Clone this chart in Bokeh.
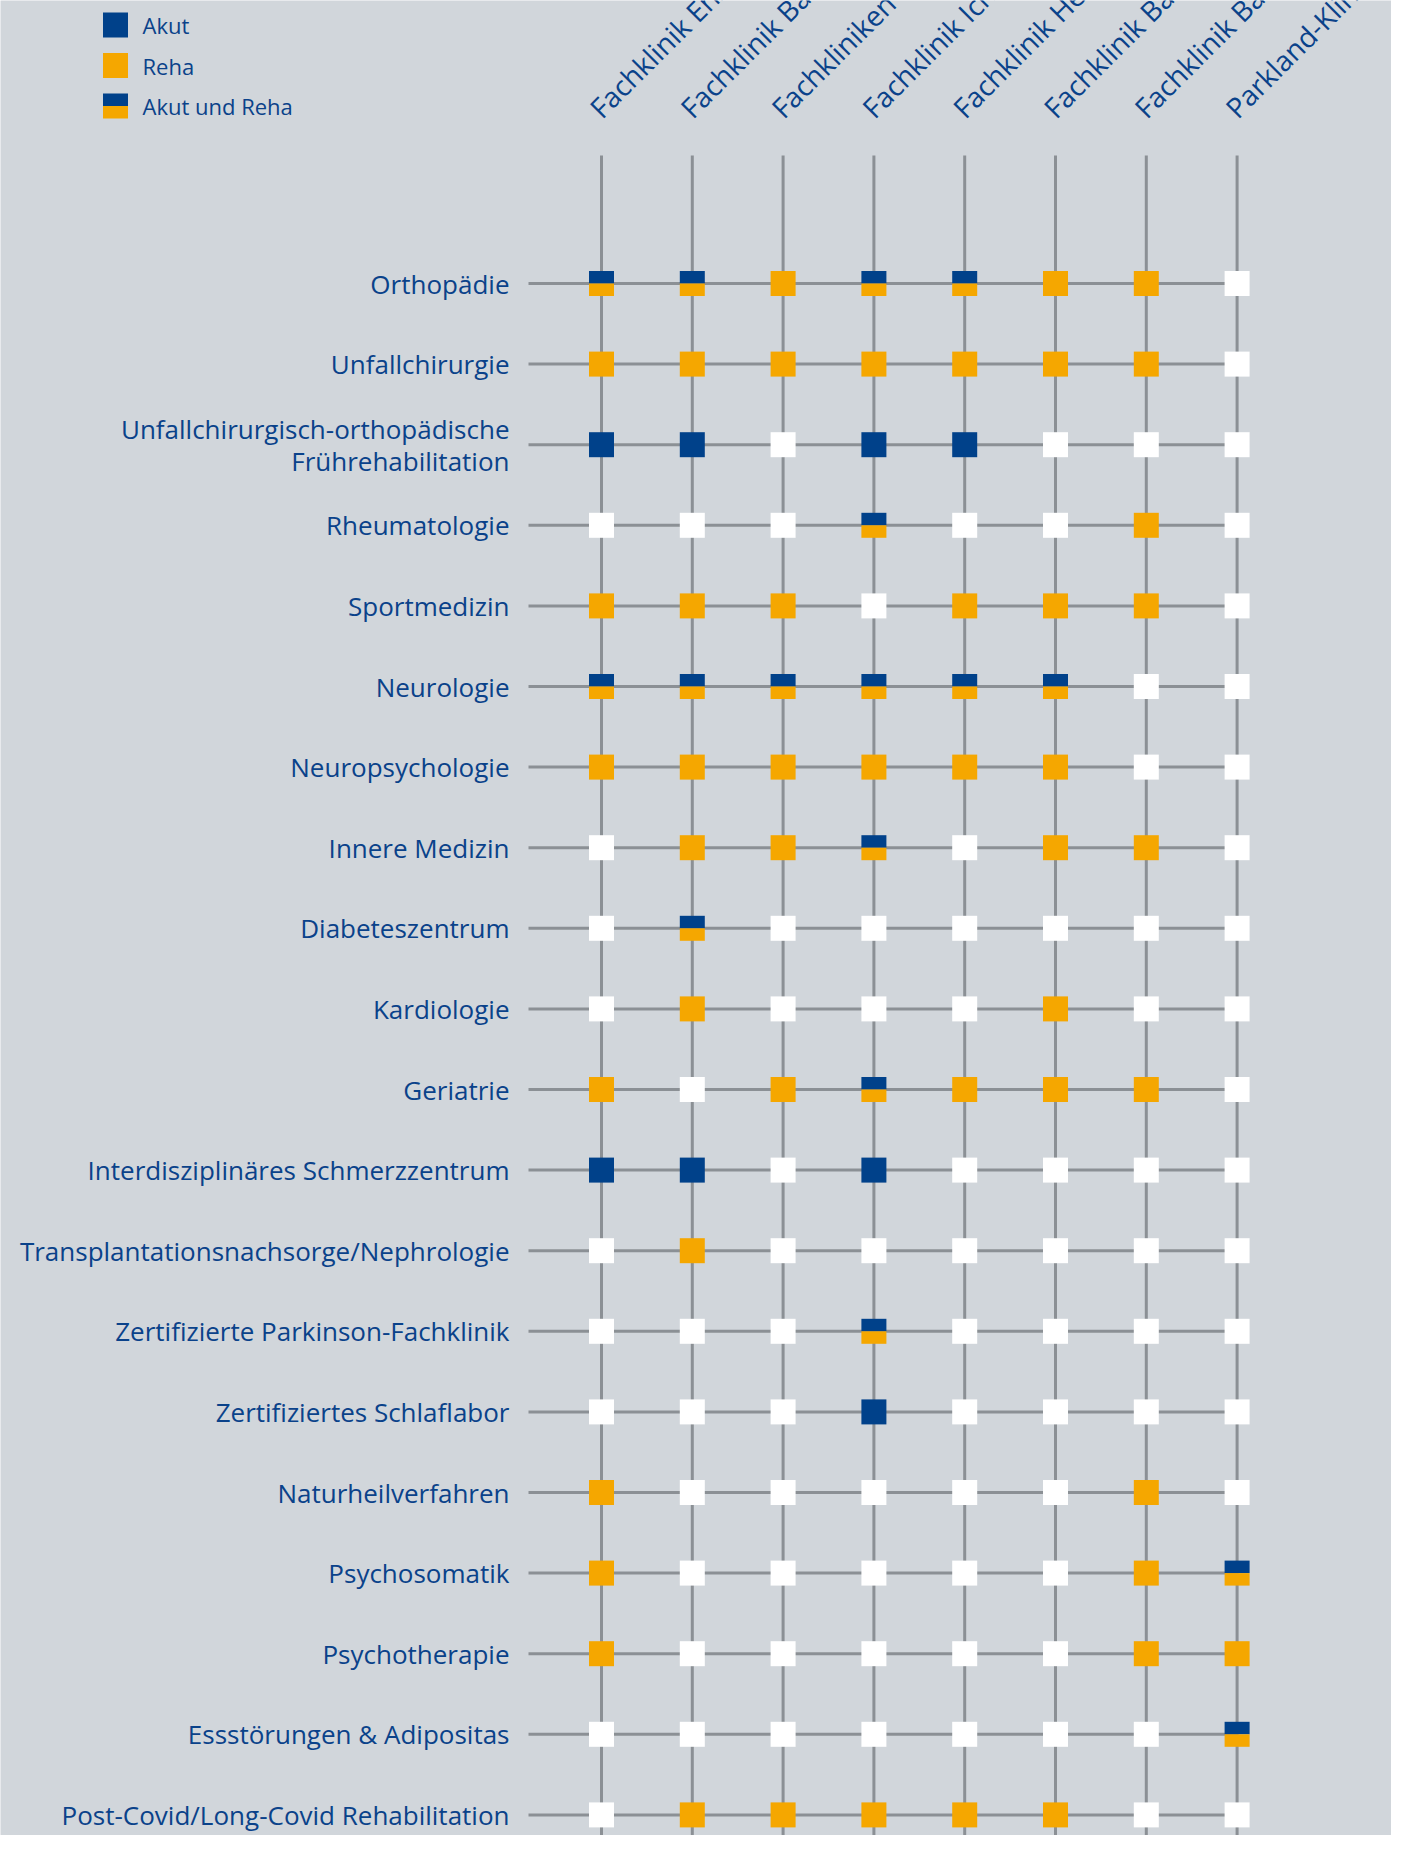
import math
from bokeh.plotting import figure
from bokeh.models import Range1d, ColumnDataSource
from bokeh.core.properties import value
from bokeh.embed import file_html
from bokeh.resources import INLINE

# ---------------- data ----------------
kliniken = [
    "Fachklinik Enzensberg",
    "Fachklinik Bad Heilbrunn",
    "Fachkliniken Hohenurach",
    "Fachklinik Ichenhausen",
    "Fachklinik Herzogenaurach",
    "Fachklinik Bad Liebenstein",
    "Fachklinik Bad Pyrmont",
    "Parkland-Klinik",
]

fachbereiche = [
    "Orthopädie",
    "Unfallchirurgie",
    "Unfallchirurgisch-orthopädische\nFrührehabilitation",
    "Rheumatologie",
    "Sportmedizin",
    "Neurologie",
    "Neuropsychologie",
    "Innere Medizin",
    "Diabeteszentrum",
    "Kardiologie",
    "Geriatrie",
    "Interdisziplinäres Schmerzzentrum",
    "Transplantationsnachsorge/Nephrologie",
    "Zertifizierte Parkinson-Fachklinik",
    "Zertifiziertes Schlaflabor",
    "Naturheilverfahren",
    "Psychosomatik",
    "Psychotherapie",
    "Essstörungen & Adipositas",
    "Post-Covid/Long-Covid Rehabilitation",
]

# "A" = Akut, "R" = Reha, "AR" = Akut und Reha, "" = kein Angebot
angebot = [
    ["AR", "AR", "R", "AR", "AR", "R", "R", ""],
    ["R", "R", "R", "R", "R", "R", "R", ""],
    ["A", "A", "", "A", "A", "", "", ""],
    ["", "", "", "AR", "", "", "R", ""],
    ["R", "R", "R", "", "R", "R", "R", ""],
    ["AR", "AR", "AR", "AR", "AR", "AR", "", ""],
    ["R", "R", "R", "R", "R", "R", "", ""],
    ["", "R", "R", "AR", "", "R", "R", ""],
    ["", "AR", "", "", "", "", "", ""],
    ["", "R", "", "", "", "R", "", ""],
    ["R", "", "R", "AR", "R", "R", "R", ""],
    ["A", "A", "", "A", "", "", "", ""],
    ["", "R", "", "", "", "", "", ""],
    ["", "", "", "AR", "", "", "", ""],
    ["", "", "", "A", "", "", "", ""],
    ["R", "", "", "", "", "", "R", ""],
    ["R", "", "", "", "", "", "R", "AR"],
    ["R", "", "", "", "", "", "R", "R"],
    ["", "", "", "", "", "", "", "AR"],
    ["", "R", "R", "R", "R", "R", "", ""],
]

legend_labels = ["Akut", "Reha", "Akut und Reha"]
legend_codes = ["A", "R", "AR"]

# ---------------- style ----------------
BG = "#d1d6db"
BLUE = "#00418a"
ORANGE = "#f5a700"
WHITE = "#ffffff"
GRID = "#8b9095"
TEXT = "#0a428a"
FONT = value("Open Sans")

W, H = 1391, 1835
X0, DX = 601.0, 90.8      # canvas x of first column, column spacing
Y0, DY = 283.0, 80.6      # canvas y of first row, row spacing
SQ = 25                   # square size (px)
LINE_GAP = 32             # line spacing for two-line labels (px)


def u(px):
    return (px - X0) / DX


def v(py):
    return (py - Y0) / DY


p = figure(
    width=W, height=H,
    x_range=Range1d(u(0), u(W)),
    y_range=Range1d(v(H), v(0)),
    output_backend="svg", toolbar_location=None,
    min_border=0, min_border_left=0, min_border_right=0,
    min_border_top=0, min_border_bottom=0,
)
p.background_fill_color = BG
p.border_fill_color = BG
p.outline_line_color = None
p.axis.visible = False
p.grid.visible = False

ncol = len(kliniken)
nrow = len(fachbereiche)

# grid lines
p.segment(x0=list(range(ncol)), y0=[v(155)] * ncol,
          x1=list(range(ncol)), y1=[v(H + 20)] * ncol,
          line_color=GRID, line_width=3)
p.segment(x0=[u(528)] * nrow, y0=list(range(nrow)),
          x1=[ncol - 1] * nrow, y1=list(range(nrow)),
          line_color=GRID, line_width=3)

# squares
full = dict(x=[], y=[], c=[])
top = dict(x=[], y=[])
bot = dict(x=[], y=[])
half = (SQ / 4) / DY
for j, row in enumerate(angebot):
    for i, code in enumerate(row):
        if code == "AR":
            top["x"].append(i); top["y"].append(j - half)
            bot["x"].append(i); bot["y"].append(j + half)
        else:
            full["x"].append(i); full["y"].append(j)
            full["c"].append({"A": BLUE, "R": ORANGE}.get(code, WHITE))

p.rect(x="x", y="y", width=SQ, height=SQ, width_units="screen", height_units="screen",
       fill_color="c", line_color=None, source=ColumnDataSource(full))
p.rect(x="x", y="y", width=SQ, height=SQ / 2, width_units="screen", height_units="screen",
       fill_color=BLUE, line_color=None, source=ColumnDataSource(top))
p.rect(x="x", y="y", width=SQ, height=SQ / 2, width_units="screen", height_units="screen",
       fill_color=ORANGE, line_color=None, source=ColumnDataSource(bot))

# row labels (multi-line labels split into separate lines)
lab = dict(x=[], y=[], t=[], off=[])
for j, name in enumerate(fachbereiche):
    parts = name.split("\n")
    n = len(parts)
    for k, part in enumerate(parts):
        lab["x"].append(u(509)); lab["y"].append(j); lab["t"].append(part)
        lab["off"].append((k - (n - 1) / 2) * LINE_GAP)
p.text(x="x", y="y", text="t", y_offset="off", source=ColumnDataSource(lab),
       text_font=FONT, text_font_size="26px", text_color=TEXT,
       text_align="right", text_baseline="middle")

# column labels (run off the top edge, as in the original)
p.text(x=list(range(ncol)), y=[v(112)] * ncol, text=kliniken, x_offset=-7,
       angle=math.pi / 4, text_font=FONT, text_font_size="28px", text_color=TEXT,
       text_align="left", text_baseline="alphabetic")

# legend
lx = u(115)
ly = [v(24.5 + 40.5 * k) for k in range(len(legend_labels))]
for k, code in enumerate(legend_codes):
    if code == "AR":
        p.rect(x=[lx], y=[ly[k] - half], width=SQ, height=SQ / 2, width_units="screen",
               height_units="screen", fill_color=BLUE, line_color=None)
        p.rect(x=[lx], y=[ly[k] + half], width=SQ, height=SQ / 2, width_units="screen",
               height_units="screen", fill_color=ORANGE, line_color=None)
    else:
        p.rect(x=[lx], y=[ly[k]], width=SQ, height=SQ, width_units="screen",
               height_units="screen", fill_color=BLUE if code == "A" else ORANGE,
               line_color=None)
p.text(x=[u(142)] * len(legend_labels), y=ly, text=legend_labels,
       text_font=FONT, text_font_size="22px", text_color=TEXT,
       text_align="left", text_baseline="middle")

open("out.html", "w").write(file_html(p, INLINE))
